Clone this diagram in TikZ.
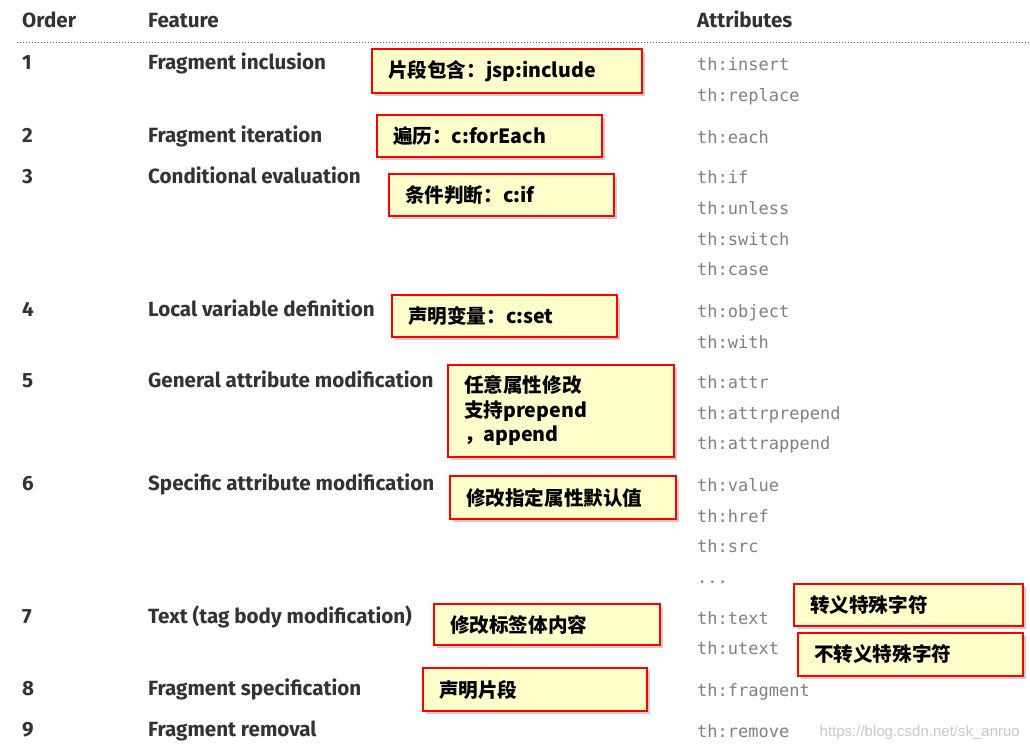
\documentclass[tikz,border=0pt]{standalone}
\usepackage{fontspec}
\usepackage{tikz}
\usetikzlibrary{shadows}
\setmainfont{Fira Sans}
\setmonofont{DejaVu Sans Mono}
\newfontfamily\cjk{Noto Sans CJK SC}
\newfontfamily\markfont{Liberation Sans}
\definecolor{headgray}{HTML}{333333}
\definecolor{attrgray}{HTML}{808080}
\definecolor{markgray}{HTML}{C8C8C8}
\definecolor{notered}{HTML}{FF0000}
\definecolor{noteyellow}{HTML}{FFFFCC}

\begin{document}
\begin{tikzpicture}[x=1pt, y=-1pt,
    head/.style={anchor=base west, inner sep=0pt, text=headgray, font=\bfseries\fontsize{20.6}{24}\selectfont},
    attr/.style={anchor=base west, inner sep=0pt, text=attrgray, font=\ttfamily\fontsize{17}{20}\selectfont},
    tip/.style={anchor=north west, draw=notered, line width=2pt, fill=noteyellow, align=left,
      inner xsep=16pt, inner ysep=0pt, font=\cjk\bfseries\fontsize{19.6}{24.5}\selectfont,
      drop shadow={shadow xshift=3pt, shadow yshift=-3pt, opacity=0.4}}]
      \useasboundingbox (0,0) rectangle (1030,745);

      % Draw the header
      \node[head] (order) at (22,27) {Order};
      \node[head] (feature) at (148,27) {Feature};
      \node[head] (attributes) at (697,27) {Attributes};
      \coordinate (rulel) at (17,42);
      \coordinate (ruler) at (1030,42);
      \draw[black!65, dotted, line width=1pt] (rulel) -- (ruler);

      % Draw the rows
      \foreach \i/\y/\t in {1/69/{Fragment inclusion}, 2/142/{Fragment iteration},
          3/183/{Conditional evaluation}, 4/316/{Local variable definition},
          5/387/{General attribute modification}, 6/490/{Specific attribute modification},
          7/623/{Text (tag body modification)}, 8/695/{Fragment specification},
          9/736/{Fragment removal}} {
        \node[head] (o\i) at (22,\y) {\i};
        \node[head] (f\i) at (148,\y) {\t};
      }

      % Draw the attributes
      \foreach \i/\y/\t in {1/70/insert, 2/101/replace, 3/143/each, 4/183/if, 5/214/unless,
          6/245/switch, 7/275/case, 8/317/object, 9/348/with, 10/388/attr,
          11/419/attrprepend, 12/449/attrappend, 13/491/value, 14/522/href, 15/552/src,
          17/624/text, 18/654/utext, 19/696/fragment, 20/737/remove}
        \node[attr] (a\i) at (697,\y) {th:\t};
      \node[attr] (a16) at (697,583) {...};

      % Draw the notes
      \foreach \i/\x/\y/\w/\h/\t in {1/371/48/270/44/{片段包含：jsp:include},
          2/376/114/225/42/{遍历：c:forEach}, 3/388/173/225/42/{条件判断：c:if},
          4/391/294/225/42/{声明变量：c:set},
          5/447/364/226/92/{任意属性修改\\支持prepend\\，append},
          6/449/475/226/43/{修改指定属性默认值}, 7/433/603/226/41/{修改标签体内容},
          8/422/667/224/43/{声明片段}, 9/793/583/229/42/{转义特殊字符},
          10/797/632/225/43/{不转义特殊字符}}
        \node[tip, minimum width=\w pt, minimum height=\h pt, text width=\w pt-32pt]
          (n\i) at (\x,\y) {\t};

      % Watermark
      \node[anchor=base east, inner sep=0pt, text=markgray, font=\markfont\fontsize{15}{18}\selectfont]
        (mark) at (1020,736) {https://blog.csdn.net/sk\_anruo};
    \end{tikzpicture}
\end{document}
